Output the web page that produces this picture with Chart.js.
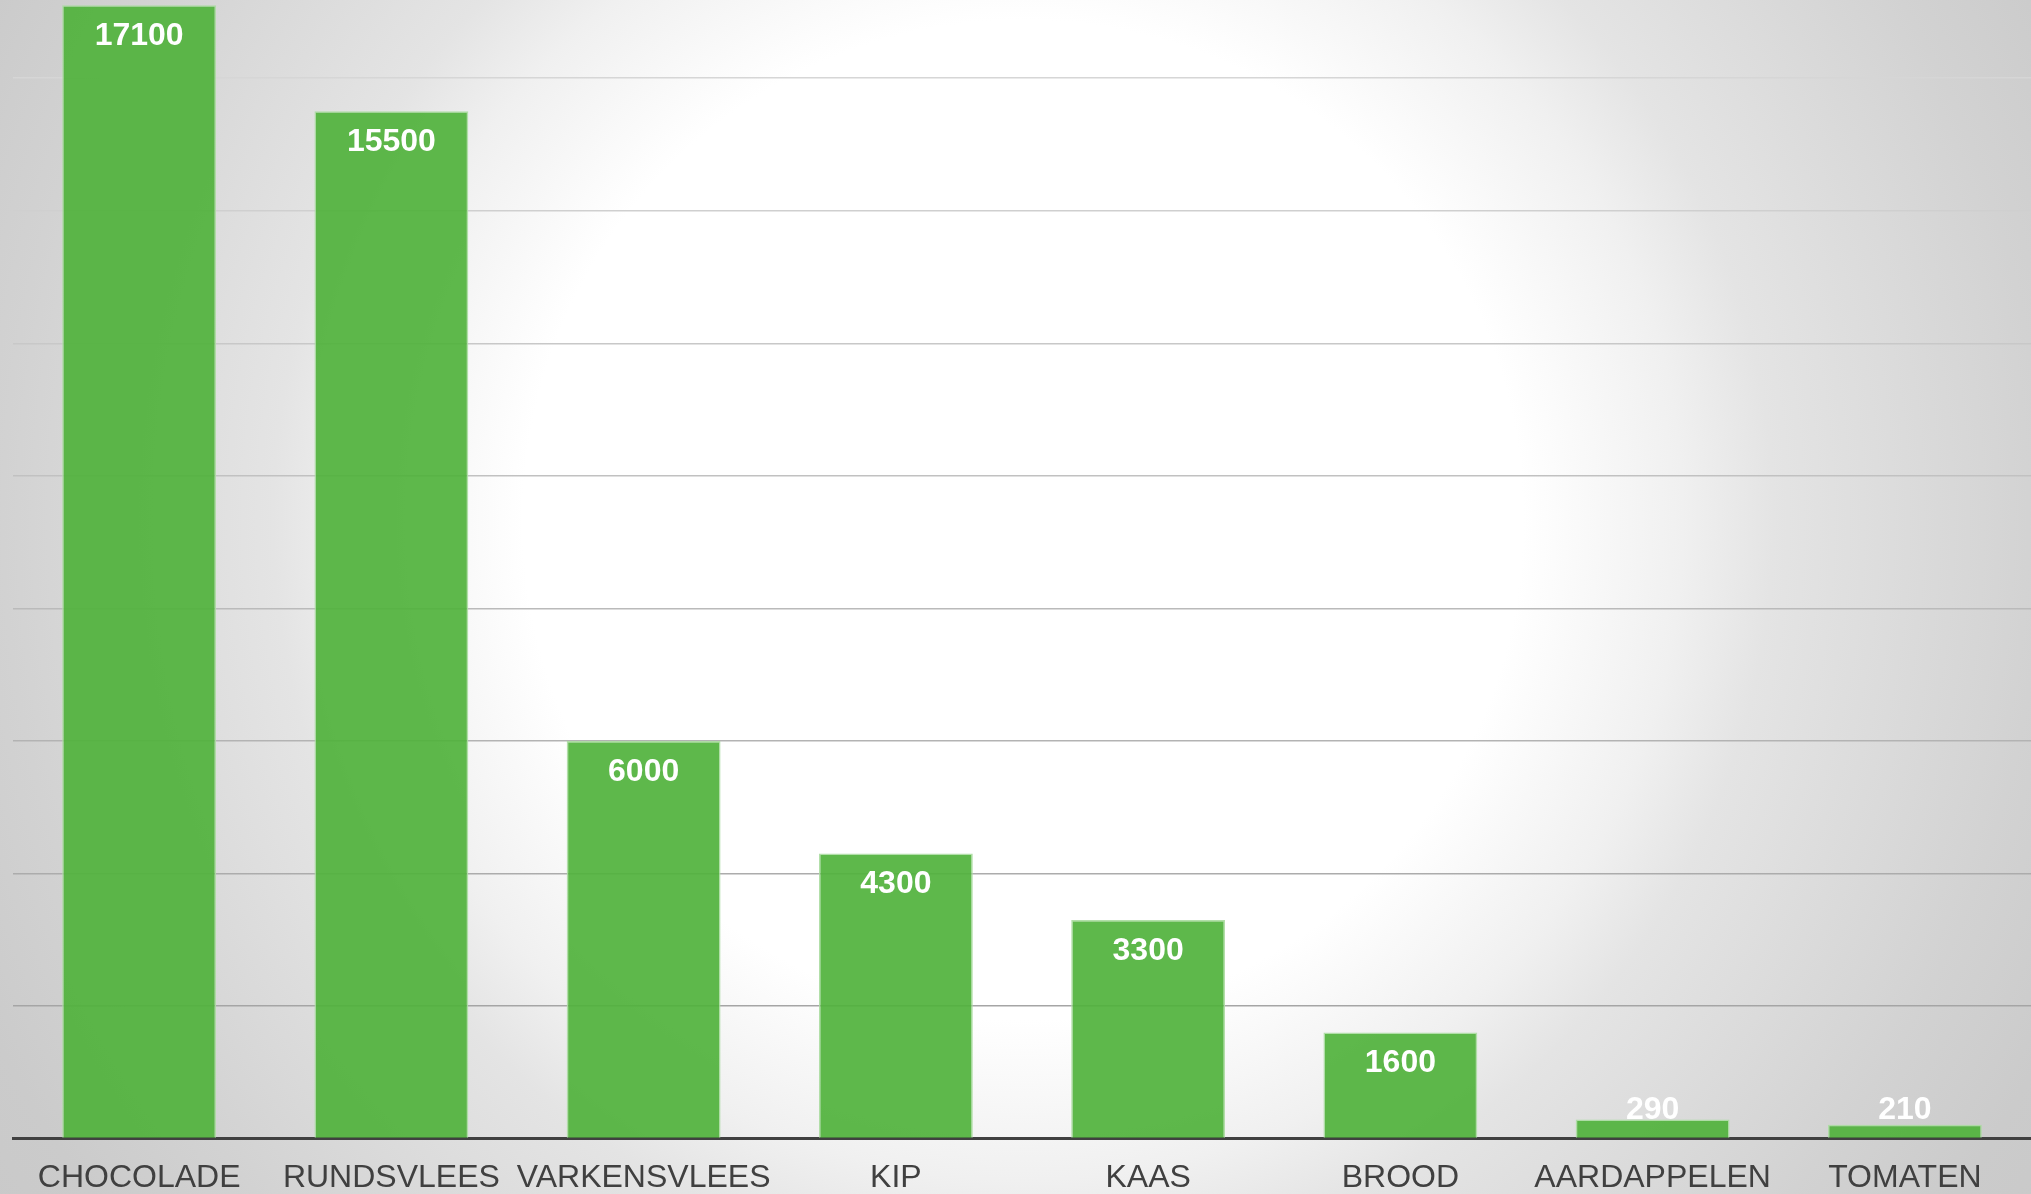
<!DOCTYPE html>
<html>
<head>
<meta charset="utf-8">
<script src="https://cdn.jsdelivr.net/npm/chart.js@4/dist/chart.umd.min.js"></script>
<style>
  html, body { margin: 0; padding: 0; overflow: hidden; }
  #wrap {
    width: 2031px; height: 1194px; position: relative;
    background: radial-gradient(circle at 1023px 520px, #ffffff 0px, #ffffff 500px, #f0f0f0 660px, #e4e4e4 750px, #d2d2d2 1020px, #cbcbcb 1150px, #c8c8c8 1300px);
  }
  canvas { display: block; }
</style>
</head>
<body>
<div id="wrap"><canvas id="c" width="2031" height="1194" style="width:2031px;height:1194px"></canvas></div>
<script>
const categories = ['CHOCOLADE', 'RUNDSVLEES', 'VARKENSVLEES', 'KIP', 'KAAS', 'BROOD', 'AARDAPPELEN', 'TOMATEN'];
const values = [17100, 15500, 6000, 4300, 3300, 1600, 290, 210];
const yTicks = [0, 2000, 4000, 6000, 8000, 10000, 12000, 14000, 16000];
const yMax = 17180;

const labelPlugin = {
  id: 'barLabels',
  afterDatasetsDraw(chart) {
    const ctx = chart.ctx;
    const meta = chart.getDatasetMeta(0);
    const bottom = chart.chartArea.bottom;
    ctx.save();
    ctx.font = 'bold 32px "Liberation Sans", Arial, sans-serif';
    ctx.fillStyle = '#ffffff';
    ctx.textAlign = 'center';
    ctx.textBaseline = 'middle';
    meta.data.forEach((bar, i) => {
      const y = Math.min(bar.y + 31, bottom - 28.6);
      ctx.fillText(String(chart.data.datasets[0].data[i]), bar.x, y);
    });
    ctx.restore();
  }
};

function gridColor(c) {
  const v = (c && c.tick) ? c.tick.value : 0;
  if (v === 0) return 'rgba(0,0,0,0)';
  const t = v / yTicks[yTicks.length - 1];
  const g = Math.round(158 + 56 * t);
  return 'rgb(' + g + ',' + g + ',' + g + ')';
}

new Chart(document.getElementById('c'), {
  type: 'bar',
  data: {
    labels: categories,
    datasets: [{
      data: values,
      backgroundColor: 'rgba(80,178,60,0.92)',
      borderColor: 'rgba(170,220,160,0.9)',
      borderWidth: 1.5,
      categoryPercentage: 1,
      barPercentage: 0.61
    }]
  },
  options: {
    responsive: false,
    devicePixelRatio: 1,
    animation: false,
    layout: { padding: { left: 13, right: 0, top: 0, bottom: -23.4 } },
    plugins: { legend: { display: false }, tooltip: { enabled: false } },
    scales: {
      x: {
        grid: { display: false, drawTicks: false },
        border: { display: true, color: '#404040', width: 3 },
        ticks: {
          color: '#404040',
          font: { family: '"Liberation Sans", Arial, sans-serif', size: 32, lineHeight: 1 },
          padding: 23.4,
          maxRotation: 0,
          autoSkip: false
        }
      },
      y: {
        display: true,
        min: 0,
        max: yMax,
        ticks: { display: false, autoSkip: false },
        grid: { display: true, drawTicks: false, color: gridColor, lineWidth: 1.5 },
        border: { display: false },
        afterBuildTicks(scale) {
          scale.ticks = yTicks.map(v => ({ value: v }));
        }
      }
    }
  },
  plugins: [labelPlugin]
});
</script>
</body>
</html>
